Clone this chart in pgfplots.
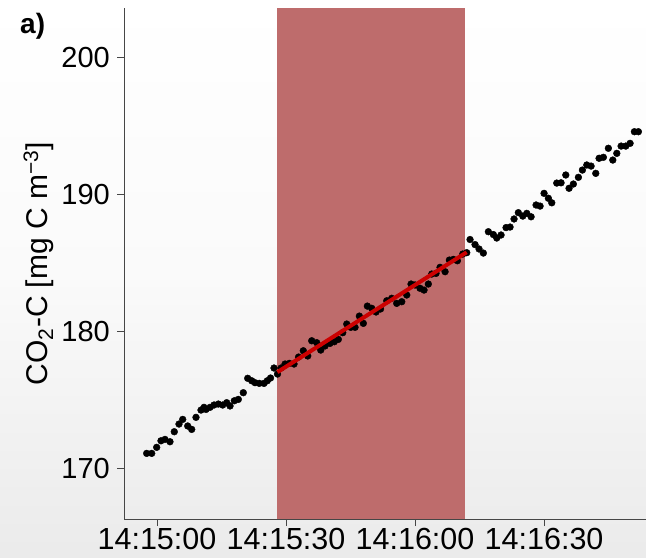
\documentclass[border=0pt]{standalone}
\usepackage{pgfplots}
\pgfplotsset{compat=1.18}
\usepackage{fontspec}
\setmainfont{Liberation Sans}
\definecolor{shadecol}{RGB}{190,108,108}
\definecolor{fitred}{RGB}{204,0,0}
\definecolor{axgray}{RGB}{70,70,70}
\begin{document}
\begin{tikzpicture}
\path[use as bounding box] (0,0) rectangle (646bp,558bp);
\shade[top color=white, bottom color=black!8, middle color=black!2] (0,0) rectangle (646bp,558bp);
\begin{axis}[
  clip marker paths=true,
  at={(124bp,39bp)}, anchor=south west,
  scale only axis, width=522bp, height=511bp,
  xmin=-7.67, xmax=113.7, ymin=166.28, ymax=203.58,
  axis x line*=bottom, axis y line*=left,
  axis line style={axgray, line width=1bp},
  xtick={0,30,60,90}, xticklabels={14:15:00,14:15:30,14:16:00,14:16:30},
  ytick={170,180,190,200}, yticklabels={170,180,190,200},
  tick align=outside, major tick length=7bp,
  tick style={axgray, line width=0.8bp},
  ticklabel style={inner sep=0pt},
  xticklabel style={font=\fontsize{30.5bp}{36bp}\selectfont, anchor=north, yshift=-2bp},
  yticklabel style={font=\fontsize{29bp}{34bp}\selectfont, anchor=east, xshift=-7bp},
  ylabel={CO\textsubscript{2}-C [mg C m\textsuperscript{\symbol{"2212}3}]},
  ylabel style={font=\fontsize{30bp}{36bp}\selectfont, at={(axis description cs:-0.1475,0.5)}, anchor=base, inner sep=0pt},
]
\addplot[fill=shadecol, draw=none] coordinates {(27.9,166.28) (71.6,166.28) (71.6,203.58) (27.9,203.58)} -- cycle;
\addplot[only marks, mark=*, mark size=3.4bp, black] coordinates {
(-2.40,171.07) (-1.23,171.07) (-0.07,171.51) (0.93,171.99) (1.86,172.09) (3.02,171.92)
(4.02,172.65) (5.12,173.21) (5.98,173.55) (7.14,173.07) (8.07,172.82) (9.07,173.70)
(10.23,174.23) (10.93,174.43) (11.40,174.28) (12.33,174.43) (13.26,174.60) (14.26,174.67)
(15.28,174.60) (16.21,174.77) (16.98,174.53) (17.98,174.91) (18.91,175.01) (20.07,175.50)
(21.09,176.55) (22.02,176.37) (22.79,176.23) (23.79,176.18) (24.88,176.18) (25.65,176.37)
(26.40,176.57) (27.21,177.30) (28.02,176.86) (28.84,177.30) (29.77,177.59) (30.77,177.64)
(31.86,177.59) (32.91,178.10) (34.02,178.56) (35.05,178.18) (35.98,179.29) (37.14,179.15)
(38.07,178.61) (39.07,178.91) (40.23,179.10) (41.23,179.22) (42.16,179.39) (43.19,179.88)
(44.12,180.51) (45.05,180.27) (46.05,180.27) (47.05,181.09) (47.98,180.56) (48.91,181.82)
(49.93,181.66) (50.93,181.39) (51.98,181.61) (53.42,182.21) (54.58,182.39) (55.74,182.02)
(56.91,182.14) (58.07,182.63) (59.07,183.43) (60.00,183.36) (61.16,183.12) (62.09,182.99)
(63.09,183.43) (63.88,184.16) (64.88,184.21) (65.81,184.65) (66.98,184.33) (67.98,185.18)
(68.91,185.23) (69.84,185.13) (71.09,185.62) (72.02,185.72) (72.79,186.68) (73.95,186.31)
(74.88,185.99) (75.88,185.69) (77.05,187.25) (78.21,187.04) (79.00,186.79) (80.00,187.01)
(81.16,187.55) (82.09,187.59) (83.02,188.18) (84.02,188.64) (85.05,188.39) (85.98,188.59)
(86.98,188.34) (88.14,189.20) (89.07,189.12) (90.00,190.05) (91.00,189.69) (91.79,189.36)
(92.95,190.80) (93.95,190.82) (95.05,191.39) (95.81,190.42) (96.81,190.73) (97.98,191.22)
(98.91,191.75) (99.93,192.12) (100.93,192.04) (102.02,191.51) (102.79,192.61) (103.79,192.68)
(104.95,193.34) (105.98,192.48) (106.91,192.97) (107.91,193.50) (109.00,193.50) (110.00,193.70)
(111.00,194.55) (111.93,194.55)
};
\addplot[fitred, line width=4bp] coordinates {(28.0,177.0) (72.0,185.75)};
\end{axis}
\node[anchor=base west, font=\bfseries\fontsize{28bp}{34bp}\selectfont, inner sep=0pt] at (20bp,524bp) {a)};
\end{tikzpicture}
\end{document}
